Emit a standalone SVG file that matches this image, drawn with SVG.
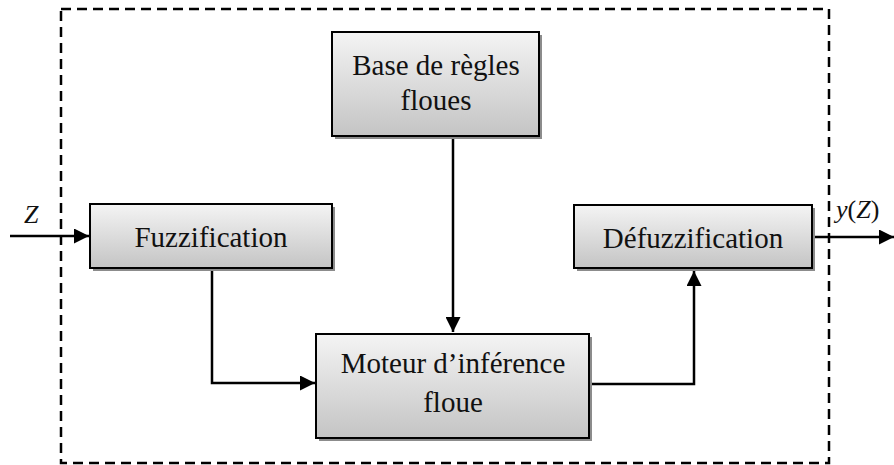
<svg xmlns="http://www.w3.org/2000/svg" width="894" height="465" viewBox="0 0 894 465">
<defs>
<linearGradient id="g" x1="0" y1="0" x2="0" y2="1">
<stop offset="0" stop-color="#f4f4f4"/>
<stop offset="1" stop-color="#c4c4c4"/>
</linearGradient>
<marker id="ah" viewBox="0 0 10 10" refX="10" refY="5" markerWidth="6.5" markerHeight="6" markerUnits="strokeWidth" orient="auto">
<path d="M0,0 L10,5 L0,10 Z" fill="#000"/>
</marker>
<style>
.box{fill:url(#g);stroke:#000;stroke-width:2}
.sh{fill:#8c8c8c}
text{font-family:'Liberation Serif','DejaVu Serif',serif;fill:#111}
.t{font-size:29px;text-anchor:middle}
.m{font-size:26px}
.c{fill:none;stroke:#000;stroke-width:2.5}
.frame{fill:none;stroke:#000;stroke-width:2.5;stroke-dasharray:10 6}
</style>
</defs>
<rect class="frame" x="61" y="9" width="768" height="454"/>
<g id="connectors">
<path class="c" d="M10,236 H89" marker-end="url(#ah)"/>
<path class="c" d="M453,139 V332" marker-end="url(#ah)"/>
<path class="c" d="M212,270 V383 H315" marker-end="url(#ah)"/>
<path class="c" d="M592,384 H694 V271" marker-end="url(#ah)"/>
<path class="c" d="M815,237 H894" marker-end="url(#ah)"/>
</g>
<g id="base">
<rect class="sh" x="335" y="35" width="207" height="104"/>
<rect class="box" x="332" y="32" width="207" height="104"/>
<text class="t" x="436" y="75" font-family="Liberation Serif, serif">Base de règles</text>
<text class="t" x="436" y="110" font-family="Liberation Serif, serif">floues</text>
</g>
<g id="fuzz">
<rect class="sh" x="93" y="207" width="242" height="64"/>
<rect class="box" x="90" y="204" width="242" height="64"/>
<text class="t" x="211" y="247" font-family="Liberation Serif, serif">Fuzzification</text>
</g>
<g id="defuzz">
<rect class="sh" x="577" y="208" width="238" height="63"/>
<rect class="box" x="574" y="205" width="238" height="63"/>
<text class="t" x="693" y="248" font-family="Liberation Serif, serif">Défuzzification</text>
</g>
<g id="moteur">
<rect class="sh" x="319" y="337" width="273" height="104"/>
<rect class="box" x="316" y="334" width="273" height="104"/>
<text class="t" x="453" y="373" font-family="Liberation Serif, serif">Moteur d’inférence</text>
<text class="t" x="453" y="412" font-family="Liberation Serif, serif">floue</text>
</g>
<g id="labels">
<text class="m" x="24" y="223" font-style="italic" font-family="Liberation Serif, serif">Z</text>
<text class="m" x="836" y="218" font-family="Liberation Serif, serif"><tspan font-style="italic">y</tspan>(<tspan font-style="italic">Z</tspan>)</text>
</g>
</svg>
